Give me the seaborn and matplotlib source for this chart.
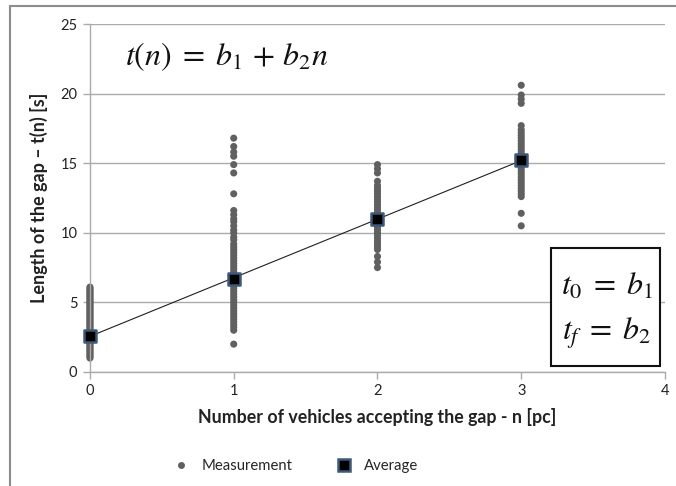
import numpy as np
import pandas as pd
import matplotlib
matplotlib.use("Agg")
import matplotlib.pyplot as plt
from matplotlib.patches import Rectangle
from matplotlib.lines import Line2D
import seaborn as sns

# Measured gap lengths [s] grouped by number of accepting vehicles
gap_n0 = [1.0, 1.1, 1.2, 1.3, 1.4, 1.5, 1.6, 1.7, 1.8, 1.9, 2.0, 2.1, 2.2, 2.3,
          2.4, 2.5, 2.6, 2.7, 2.8, 2.9, 3.0, 3.1, 3.2, 3.3, 3.4, 3.5, 3.6, 3.7,
          3.8, 3.9, 4.0, 4.1, 4.2, 4.3, 4.4, 4.5, 4.6, 4.7, 4.8, 4.9, 5.0, 5.1,
          5.2, 5.3, 5.4, 5.5, 5.6, 5.7, 5.8, 5.9, 6.0, 6.1]
gap_n1 = [2.0, 3.0, 3.2, 3.4, 3.6, 3.8, 4.0, 4.2, 4.4, 4.6, 4.8, 5.0, 5.2, 5.4,
          5.6, 5.8, 6.0, 6.2, 6.4, 6.6, 6.8, 7.0, 7.2, 7.4, 7.6, 7.8, 8.0, 8.2,
          8.4, 8.6, 8.8, 9.0, 9.2, 9.5, 9.7, 10.0, 10.2, 10.5, 10.8, 11.0, 11.3,
          11.6, 12.8, 14.3, 14.9, 15.5, 15.8, 16.2, 16.8]
gap_n2 = [7.5, 7.9, 8.3, 8.8, 9.0, 9.2, 9.4, 9.6, 9.8, 10.0, 10.2, 10.4, 10.6,
          10.8, 11.0, 11.2, 11.4, 11.6, 11.8, 12.0, 12.2, 12.4, 12.6, 12.8, 13.0,
          13.2, 13.4, 13.7, 14.3, 14.6, 14.9]
gap_n3 = [10.5, 11.4, 12.6, 12.8, 13.0, 13.2, 13.4, 13.6, 13.8, 14.0, 14.2, 14.4,
          14.6, 14.8, 15.0, 15.2, 15.4, 15.6, 15.8, 16.0, 16.2, 16.4, 16.6, 16.8,
          17.0, 17.2, 17.4, 17.7, 19.3, 19.6, 19.9, 20.6]

vehicles = [0, 1, 2, 3]
averages = [2.6, 6.7, 11.0, 15.2]

x_ticks = [0, 1, 2, 3, 4]
y_ticks = [0, 5, 10, 15, 20, 25]

measurements = pd.DataFrame({
    "n": np.concatenate([[k] * len(g) for k, g in zip(vehicles, [gap_n0, gap_n1, gap_n2, gap_n3])]),
    "t": np.concatenate([gap_n0, gap_n1, gap_n2, gap_n3]),
})
avg_df = pd.DataFrame({"n": vehicles, "t": averages})

sns.set_theme(style="white")
plt.rcParams["font.family"] = ["Lato", "DejaVu Sans"]
plt.rcParams["mathtext.fontset"] = "stix"

fig = plt.figure(figsize=(6.76, 4.86), dpi=100)
ax = fig.add_axes([0.1331, 0.2346, 0.8506, 0.716])

grid_col = "#ababab"
dot_col = "#606060"

# Linear trend fitted to the averages: t(n) = b1 + b2 n
sns.regplot(data=avg_df, x="n", y="t", ci=None, scatter=False, truncate=True,
            line_kws=dict(color="#202020", lw=0.8, zorder=3), ax=ax)

sns.scatterplot(data=measurements, x="n", y="t", color=dot_col, s=26,
                edgecolor="none", ax=ax, zorder=2, legend=False)
sns.scatterplot(data=avg_df, x="n", y="t", marker="s", color="black", s=80,
                edgecolor="#3d5878", linewidth=1.8, ax=ax, zorder=4, legend=False)
for coll in ax.collections:
    coll.set_clip_on(False)
for line in ax.lines:
    line.set_clip_on(False)

ax.set_xlim(0, 4)
ax.set_ylim(0, 25)
ax.set_xticks(x_ticks)
ax.set_yticks(y_ticks)
ax.set_xticklabels([str(v) for v in x_ticks], fontsize=10.5, color="#222222")
ax.set_yticklabels([str(v) for v in y_ticks], fontsize=10.5, color="#222222")
ax.yaxis.grid(True, color=grid_col, lw=1.0)
ax.xaxis.grid(False)
for side in ["top", "right"]:
    ax.spines[side].set_visible(False)
for side in ["left", "bottom"]:
    ax.spines[side].set_color(grid_col)
    ax.spines[side].set_linewidth(1.0)
ax.tick_params(axis="both", which="major", length=5, width=1.0, color=grid_col,
               direction="out", pad=4, bottom=True, left=True)

ax.set_xlabel("Number of vehicles accepting the gap - n [pc]", fontsize=12.8,
              fontweight="bold", color="#222222", labelpad=7)
ax.set_ylabel("Length of the gap \u2013 t(n) [s]", fontsize=13,
              fontweight="bold", color="#222222", labelpad=9)

# Model equation
fig.text(0.185, 0.884, r"$t(n)\;=\;b_1\,+\,b_2n$", fontsize=23, color="#111111",
         va="center", ha="left")

# Parameter box
box = Rectangle((551 / 676, 1 - 366 / 486), 109 / 676, 118 / 486,
                transform=fig.transFigure, facecolor="white", edgecolor="#111111",
                lw=1.5, zorder=5)
fig.patches.append(box)
fig.text(607 / 676, 1 - 286 / 486, r"$t_0\;=\;b_1$", fontsize=23, ha="center",
         va="center", color="#111111", zorder=6)
fig.text(607 / 676, 1 - 333 / 486, r"$t_f\;=\;b_2$", fontsize=23, ha="center",
         va="center", color="#111111", zorder=6)

# Legend below the chart
handles = [
    Line2D([], [], marker="o", ls="none", color=dot_col, markersize=5,
           markeredgecolor="none", label="Measurement"),
    Line2D([], [], marker="s", ls="none", color="black", markersize=8,
           markeredgecolor="#3d5878", markeredgewidth=1.8, label="Average"),
]
fig.legend(handles=handles, loc="center", bbox_to_anchor=(0.437, 1 - 466 / 486),
           ncol=2, frameon=False, fontsize=10.7, columnspacing=2.8,
           handletextpad=0.8, handlelength=1.2)

# Outer chart frame (top and left edges)
fig.add_artist(Line2D([10 / 676, 1], [1 - 6 / 486, 1 - 6 / 486],
                      transform=fig.transFigure, color="#8c8c8c", lw=1.5))
fig.add_artist(Line2D([10 / 676, 10 / 676], [0, 1 - 6 / 486],
                      transform=fig.transFigure, color="#8c8c8c", lw=1.5))

fig.savefig("out.png", dpi=100, facecolor="white")
